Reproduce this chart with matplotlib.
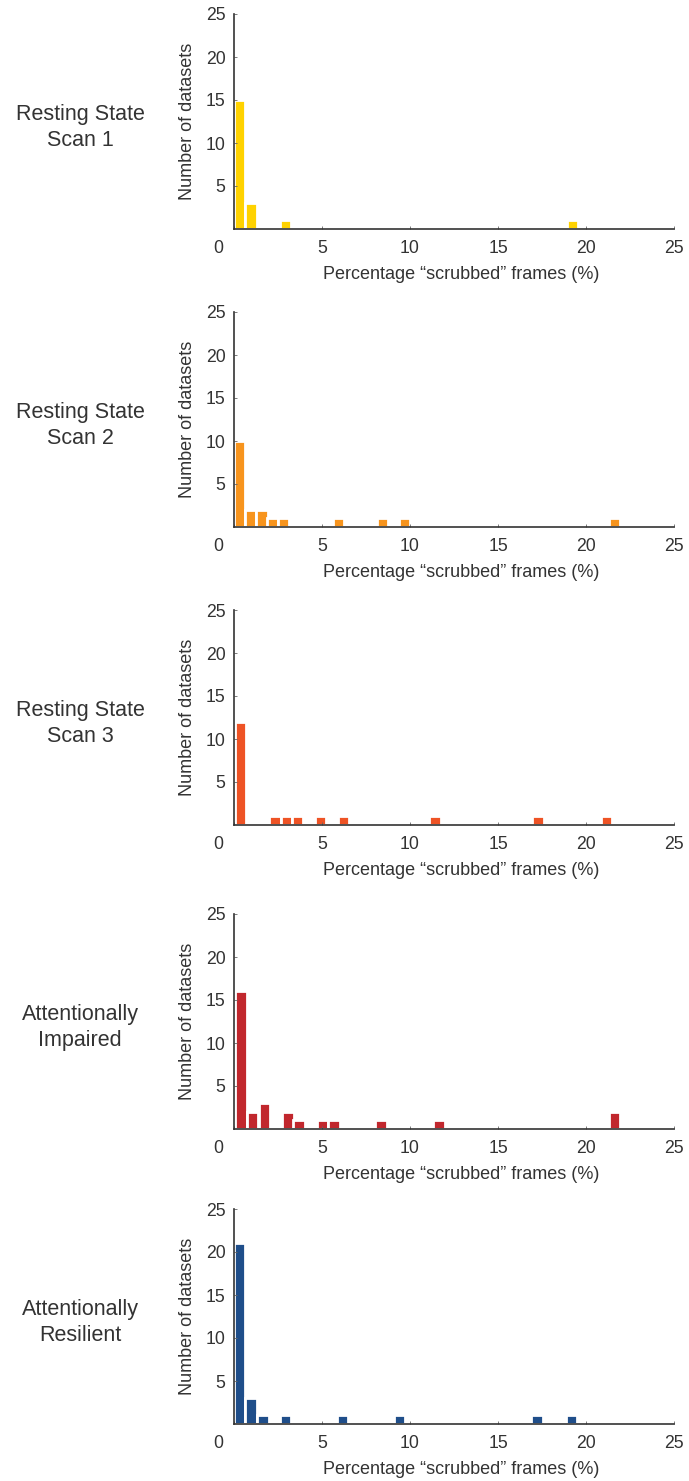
import matplotlib
matplotlib.use("Agg")
import matplotlib.pyplot as plt
import matplotlib.transforms as mtransforms

plt.rcParams['font.family'] = ['Liberation Sans', 'DejaVu Sans']

# ---- data ----
row_labels = ["Resting State\nScan 1", "Resting State\nScan 2", "Resting State\nScan 3",
              "Attentionally\nImpaired", "Attentionally\nResilient"]
colors = ["#FFD200", "#F7941D", "#EE5325", "#C1272D", "#1F4E8A"]
bin_widths = [0.65, 0.627, 0.649, 0.663, 0.65]

scan1_centers = [0.31, 0.97, 2.92, 19.22]
scan1_counts = [15, 3, 1, 1]
scan2_centers = [0.31, 0.95, 1.59, 2.21, 2.82, 5.96, 8.46, 9.71, 21.6]
scan2_counts = [10, 2, 2, 1, 1, 1, 1, 1, 1]
scan3_centers = [0.385, 2.335, 2.975, 3.615, 4.925, 6.235, 11.415, 17.265, 21.155]
scan3_counts = [12, 1, 1, 1, 1, 1, 1, 1, 1]
impaired_centers = [0.395, 1.06, 1.725, 3.05, 3.695, 5.02, 5.685, 8.35, 11.665, 21.61]
impaired_counts = [16, 2, 3, 2, 1, 1, 1, 1, 1, 2]
resilient_centers = [0.315, 0.965, 1.645, 2.915, 6.175, 9.415, 17.225, 19.175]
resilient_counts = [21, 3, 1, 1, 1, 1, 1, 1]

all_centers = [scan1_centers, scan2_centers, scan3_centers, impaired_centers, resilient_centers]
all_counts = [scan1_counts, scan2_counts, scan3_counts, impaired_counts, resilient_counts]

xticks = [0, 5, 10, 15, 20, 25]
yticks = [5, 10, 15, 20, 25]
xlabel = "Percentage \u201cscrubbed\u201d frames (%)"
ylabel = "Number of datasets"

# ---- layout ----
W, H = 689, 1481
fig = plt.figure(figsize=(W / 100, H / 100), dpi=100)
tops = [14, 312, 610, 914, 1209]
ax_h = 215
left_px, right_px = 234, 674
dark = "#333333"

for i in range(5):
    top = tops[i]
    ax = fig.add_axes([left_px / W, 1 - (top + ax_h) / H, (right_px - left_px) / W, ax_h / H])
    ax.bar(all_centers[i], all_counts[i], width=bin_widths[i], color=colors[i],
           edgecolor="white", linewidth=2.0, zorder=1)
    ax.set_xlim(0, 25)
    ax.set_ylim(0, 25)
    ax.set_xticks(xticks)
    ax.set_yticks(yticks)
    for s in ["top", "right"]:
        ax.spines[s].set_visible(False)
    for s in ["left", "bottom"]:
        ax.spines[s].set_color(dark)
        ax.spines[s].set_linewidth(1.2)
        ax.spines[s].set_zorder(3)
    ax.tick_params(direction="in", length=2.5, width=0.6, color="#666666",
                   labelsize=12.7, labelcolor=dark)
    ax.tick_params(axis="x", pad=8)
    ax.tick_params(axis="y", pad=6)
    # shift the "0" label to the left like the original
    lab0 = ax.get_xticklabels()[0]
    lab0.set_transform(lab0.get_transform() +
                       mtransforms.ScaledTranslation(-16 / 100, 0, fig.dpi_scale_trans))
    ax.set_xlabel(xlabel, fontsize=13, color=dark)
    ax.xaxis.set_label_coords(0.516, -0.172)
    ax.set_ylabel(ylabel, fontsize=13, color=dark)
    ax.yaxis.set_label_coords(-0.086, 0.5)
    cy = top + ax_h / 2 + 6
    fig.text(80 / W, 1 - cy / H, row_labels[i], ha="center", va="center",
             fontsize=15.5, color=dark, linespacing=1.35)

fig.savefig("out.png", dpi=100)
